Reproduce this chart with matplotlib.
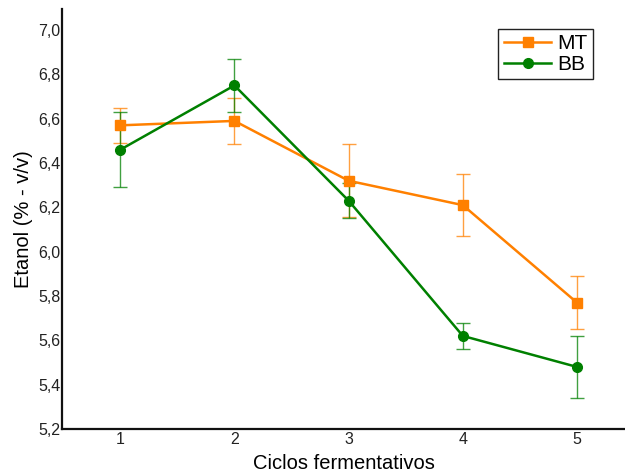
import matplotlib

matplotlib.use("Agg")

import matplotlib.pyplot as plt
from matplotlib.ticker import FuncFormatter, MultipleLocator

# --- data ------------------------------------------------------------------

ciclos = [1, 2, 3, 4, 5]

mt_mean = [6.57, 6.59, 6.32, 6.21, 5.77]
mt_err = [0.08, 0.105, 0.165, 0.14, 0.12]

bb_mean = [6.46, 6.75, 6.23, 5.62, 5.48]
bb_err = [0.17, 0.12, 0.08, 0.06, 0.14]

ORANGE = "#ff8000"
GREEN = "#008000"

plt.rcParams["font.family"] = ["Liberation Sans", "DejaVu Sans"]

fig = plt.figure(figsize=(6.25, 4.76), dpi=100)
ax = fig.add_axes([0.0992, 0.0987, 0.9008, 0.882])

for y, e, c, m, lab in [(mt_mean, mt_err, ORANGE, "s", "MT"),
                        (bb_mean, bb_err, GREEN, "o", "BB")]:
    ax.errorbar(ciclos, y, yerr=e, fmt="none", ecolor=c, elinewidth=1.0,
                capsize=5, capthick=1.0, alpha=0.75, zorder=2)
    ax.plot(ciclos, y, color=c, lw=1.8, marker=m, ms=7, label=lab, zorder=3)

ax.set_xlim(0.49, 5.42)
ax.set_ylim(5.2, 7.094)
ax.yaxis.set_major_locator(MultipleLocator(0.2))
ax.xaxis.set_major_locator(MultipleLocator(1))
ax.yaxis.set_major_formatter(FuncFormatter(lambda v, p: f"{v:.1f}".replace(".", ",")))
ax.xaxis.set_major_formatter(FuncFormatter(lambda v, p: f"{v:.0f}"))
ax.tick_params(length=0, labelsize=11.5, pad=1, colors="#222222")
ax.tick_params(axis="x", pad=2)

for s in ("top", "right"):
    ax.spines[s].set_visible(False)
for s in ("left", "bottom"):
    ax.spines[s].set_linewidth(1.6)
    ax.spines[s].set_color("#111111")

ax.set_xlabel("Ciclos fermentativos", fontsize=14.5, labelpad=5)
ax.set_ylabel("Etanol (% - v/v)", fontsize=14.5, labelpad=4)

leg = ax.legend(loc="upper right", bbox_to_anchor=(0.962, 0.978), fontsize=15,
                fancybox=False, framealpha=1, edgecolor="#222222",
                handlelength=2.3, handletextpad=0.3, borderpad=0.25,
                labelspacing=0.1)
leg.get_frame().set_linewidth(1.0)

fig.savefig("out.png", dpi=100)
